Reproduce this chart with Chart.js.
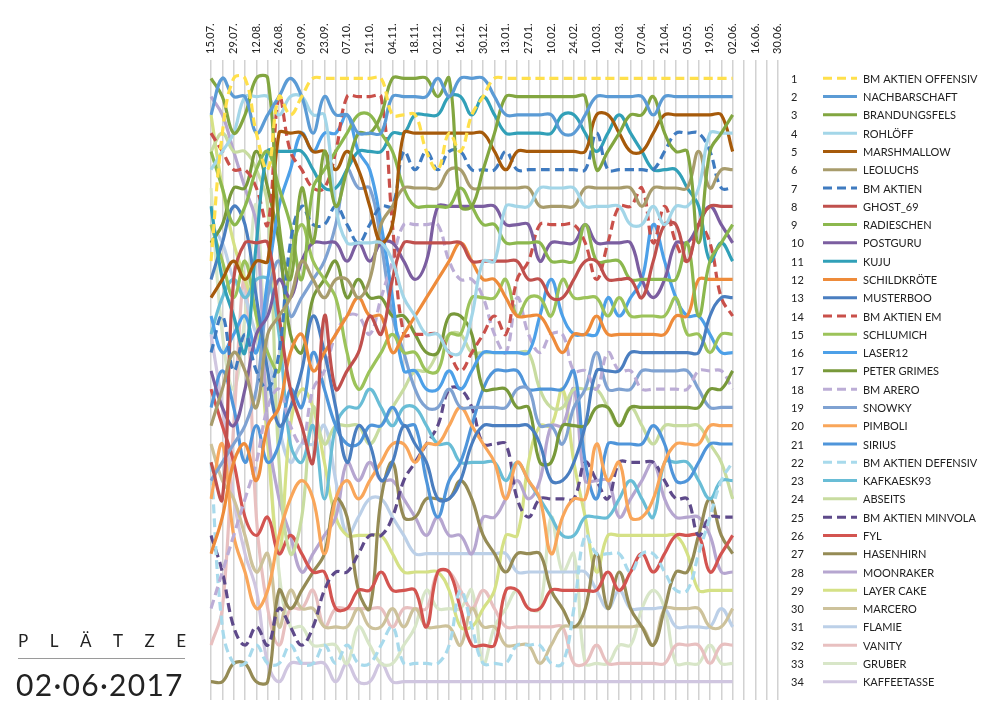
<!DOCTYPE html>
<html>
<head>
<meta charset="utf-8">
<script src="https://cdn.jsdelivr.net/npm/chart.js@4/dist/chart.umd.min.js"></script>
<style>
html,body{margin:0;padding:0;background:#fff;}
#wrap{position:relative;width:1000px;height:716px;overflow:hidden;}
#c{position:absolute;left:0;top:0;}
#plaetze{position:absolute;left:18px;top:631px;width:168px;display:flex;justify-content:space-between;font-family:Lato,sans-serif;font-size:17px;color:#222;line-height:20px;}
#rule{position:absolute;left:18px;top:658px;width:167px;height:1px;background:#9a9a9a;}
#datum{position:absolute;left:16px;top:666px;font-family:Lato,sans-serif;font-size:30px;color:#222;letter-spacing:1.3px;line-height:36px;}
</style>
</head>
<body>
<div id="wrap">
<canvas id="c" width="1000" height="716"></canvas>
<div id="plaetze"><span>P</span><span>L</span><span>Ä</span><span>T</span><span>Z</span><span>E</span></div>
<div id="rule"></div>
<div id="datum">02·06·2017</div>
</div>
<script>
// ---- tick labels (every two weeks), weeks run from 15.07.2016 to 30.06.2017
const tickLabels = ['15.07.','29.07.','12.08.','26.08.','09.09.','23.09.','07.10.','21.10.','04.11.','18.11.','02.12.','16.12.','30.12.','13.01.','27.01.','10.02.','24.02.','10.03.','24.03.','07.04.','21.04.','05.05.','19.05.','02.06.','16.06.','30.06.'];

// ---- series names (final ranking order on 02.06.)
const names = ['BM AKTIEN OFFENSIV','NACHBARSCHAFT','BRANDUNGSFELS','ROHLÖFF','MARSHMALLOW','LEOLUCHS','BM AKTIEN','GHOST_69','RADIESCHEN','POSTGURU','KUJU','SCHILDKRÖTE','MUSTERBOO','BM AKTIEN EM','SCHLUMICH','LASER12','PETER GRIMES','BM ARERO','SNOWKY','PIMBOLI','SIRIUS','BM AKTIEN DEFENSIV','KAFKAESK93','ABSEITS','BM AKTIEN MINVOLA','FYL','HASENHIRN','MOONRAKER','LAYER CAKE','MARCERO','FLAMIE','VANITY','GRUBER','KAFFEETASSE'];

// ---- weekly ranks per series (15.07. ... 02.06.)
const r01 = [11,4,1,1,4,6,2,3,2,1,1,1,1,1,1,1,3,3,3,5,6,4,5,3,2, 1,1,1,1,1,1,1,1,1,1,1,1,1,1,1,1,1,1,1,1,1,1];
const r02 = [3,1,2,2,4,3,2,1,2,4,2,3,3,4,4,4,2,2,2,2,1,2,1,1,1, 2,3,3,3,3,3,4,4,3,2,2,2,2,2,3,2,2,2,2,2,2,2];
const r03 = [1,2,4,3,1,1,9,12,7,10,5,8,6,4,4,3,1,1,1,1,2,1,8,8,6, 4,2,2,2,2,2,2,2,2,6,5,4,3,3,2,4,5,5,10,5,4,3];
const r04 = [6,5,4,2,2,2,3,2,2,3,3,8,10,10,10,10,11,13,14,15,15,16,16,14,11, 11,8,8,8,7,7,7,7,8,8,8,8,9,9,8,9,8,8,7,4,4,4];
const r05 = [13,12,11,12,11,11,4,4,4,5,5,6,5,6,8,10,9,4,4,4,4,4,4,4,4, 5,6,5,5,5,5,5,5,5,3,3,4,5,5,4,3,3,3,3,3,3,5];
const r06 = [20,18,16,17,19,15,14,13,11,12,13,12,12,13,12,9,8,7,7,7,7,6,6,7,7, 7,7,7,7,8,8,8,8,7,7,7,7,7,8,7,7,7,7,5,7,6,6];
const r07 = [16,14,17,15,17,18,16,10,8,9,9,8,9,10,9,8,8,5,6,5,6,5,5,6,6, 6,5,6,6,6,6,6,6,6,4,6,6,6,6,6,5,4,4,4,5,7,7];
const r08 = [22,24,12,10,10,10,14,18,20,22,14,18,17,16,14,15,12,10,10,10,10,10,10,11,11, 11,11,11,12,12,13,13,12,11,11,12,12,12,13,11,9,9,11,9,8,8,8];
const r09 = [5,7,9,8,6,5,7,9,12,7,6,5,4,3,3,4,5,7,8,8,8,8,7,8,9, 9,10,10,10,10,11,11,11,9,11,11,11,12,12,12,12,12,10,14,11,10,9];
const r10 = [17,19,20,18,15,14,12,13,11,10,10,10,11,10,11,10,10,11,12,11,8,8,8,8,8, 8,9,9,9,11,10,10,10,9,10,10,10,10,12,13,12,10,10,9,8,9,10];
const r11 = [8,12,14,16,10,5,5,5,5,6,7,7,6,5,5,5,4,4,3,3,3,2,2,3,2, 3,4,4,4,4,4,3,3,4,5,4,3,4,5,6,6,6,7,8,11,10,11];
const r12 = [27,25,22,21,23,20,19,16,15,17,16,15,14,13,14,14,16,15,14,13,12,11,10,11,12, 12,13,14,14,14,15,16,15,15,14,15,15,15,15,15,15,14,14,12,12,12,12];
const r13 = [12,10,8,9,13,17,20,19,17,14,16,19,22,20,21,23,22,20,21,22,24,24,23,21,20, 20,20,20,20,21,23,23,22,20,17,17,17,16,16,16,16,16,16,16,14,13,13];
const r14 = [4,5,6,6,7,9,2,5,6,7,7,5,2,2,2,2,9,15,15,15,15,16,17,16,15, 14,15,12,11,9,9,9,9,10,12,10,8,8,7,10,8,10,11,9,10,13,14];
const r15 = [9,11,13,11,14,16,17,11,9,11,12,13,16,18,17,16,15,16,16,17,17,15,15,13,13, 13,12,14,13,13,14,12,13,13,13,14,13,14,14,14,14,13,15,15,16,15,15];
const r16 = [14,16,15,14,16,12,8,6,4,5,4,4,3,5,6,9,13,17,17,18,18,17,18,17,16, 16,16,16,16,14,12,14,15,15,15,13,14,13,12,9,11,13,14,14,15,16,16];
const r17 = [10,9,7,7,5,7,10,15,16,13,12,11,13,12,13,13,14,14,15,16,16,14,14,15,18, 18,18,19,19,22,22,20,20,20,19,19,20,19,19,19,19,19,19,19,18,18,17];
const r18 = [30,28,26,24,22,19,18,20,21,18,17,15,14,14,15,13,11,9,9,9,9,11,12,12,13, 15,16,13,15,16,15,15,17,17,18,16,17,17,18,18,18,18,18,17,17,17,18];
const r19 = [23,22,21,20,18,13,11,14,13,12,11,9,6,7,7,10,14,16,18,19,19,18,19,19,19, 19,19,18,18,20,20,21,19,18,16,18,18,18,17,17,17,17,17,18,19,19,19];
const r20 = [24,21,26,28,30,29,26,24,23,24,27,24,23,24,23,22,21,21,22,21,21,20,19,20,21, 22,24,22,23,24,27,25,24,24,21,23,22,25,25,24,22,21,21,21,20,20,20];
const r21 = [19,17,19,22,20,22,21,18,19,16,18,20,21,21,20,20,19,20,20,23,25,23,22,20,18, 17,17,17,18,18,18,18,17,22,24,21,21,21,21,20,21,23,23,22,21,21,21];
const r22 = [22,31,33,33,32,33,33,32,33,33,32,33,32,33,33,32,31,33,33,33,33,32,29,31,33, 33,33,32,32,32,33,33,30,26,27,27,27,28,27,27,28,29,29,27,25,23,22];
const r23 = [15,13,12,13,12,12,15,21,22,20,24,20,19,19,18,19,20,19,19,20,21,21,22,22,22, 22,23,22,23,24,25,26,26,25,25,25,24,23,24,25,22,22,22,23,24,23,23];
const r24 = [5,4,5,5,6,8,22,27,25,19,21,20,20,20,21,20,19,18,17,17,16,15,15,16,16, 16,16,16,16,18,19,19,18,18,18,19,20,19,20,21,20,20,20,20,21,22,24];
const r25 = [26,28,31,32,31,32,30,31,32,31,29,28,28,27,26,26,25,23,22,21,20,18,18,19,21, 21,21,24,25,24,24,24,24,22,23,24,22,22,22,22,23,24,24,26,25,25,25];
const r26 = [18,20,22,25,26,25,27,26,27,28,28,30,30,29,29,28,29,29,29,31,28,28,30,32,32, 32,29,29,30,30,29,29,29,29,29,28,29,28,27,28,27,26,26,26,28,27,26];
const r27 = [34,34,33,33,34,34,29,30,29,28,27,24,25,29,30,24,22,25,25,24,24,24,23,24,26, 27,28,27,27,27,29,30,31,30,27,30,28,30,31,32,30,28,28,26,24,26,27];
const r28 = [2,3,5,7,9,20,24,26,28,27,26,25,22,23,22,23,23,24,25,26,25,26,26,27,25, 25,24,23,24,23,20,20,18,23,23,23,25,24,23,22,24,25,25,25,26,28,28];
const r29 = [3,7,10,12,14,21,27,20,18,19,22,25,26,26,26,26,27,28,28,28,28,29,31,31,30, 29,26,26,22,20,20,18,22,25,28,26,26,26,26,26,26,26,27,29,29,29,29];
const r30 = [21,23,24,26,28,27,31,29,30,30,31,31,31,30,31,31,30,31,30,31,31,31,32,30,31, 31,32,32,32,33,32,31,31,31,31,31,31,31,31,32,30,30,30,30,31,31,30];
const r31 = [9,10,12,13,15,16,20,22,21,21,20,23,26,25,24,24,25,26,27,27,27,27,27,27,27, 27,27,28,28,28,28,28,28,28,29,30,29,30,30,30,30,31,31,31,31,30,31];
const r32 = [32,30,20,12,25,30,32,30,30,29,31,30,30,30,30,30,31,30,30,30,28,28,29,30,29, 30,31,31,31,31,31,31,33,33,32,33,33,33,33,33,33,32,32,32,33,32,32];
const r33 = [7,15,18,14,8,20,28,31,31,32,32,32,33,31,32,33,33,32,31,29,30,30,30,29,33, 31,30,29,30,30,25,28,27,33,33,33,32,32,30,29,30,33,33,33,32,33,33];
const r34 = [15,19,24,27,29,33,34,33,33,33,33,34,33,34,34,33,34,34,34,34,34,34,34,34,34, 34,34,34,34,34,34,34,34,34,34,34,34,34,34,34,34,34,34,34,34,34,34];

const rankSeries = [r01,r02,r03,r04,r05,r06,r07,r08,r09,r10,r11,r12,r13,r14,r15,r16,r17,r18,r19,r20,r21,r22,r23,r24,r25,r26,r27,r28,r29,r30,r31,r32,r33,r34];

// ---- styles
const colors = ['#FFE04B','#5B9BD5','#82A640','#A3D6E8','#A65A0A','#A89C6C','#3F7BC0','#C0504D','#8CB84E','#7B5EA0','#31A0B8','#EE8B3A','#4A7EC0','#C9504A','#9CC35A','#4DA0E8','#78993A','#BCADD6','#7FA2D2','#F9A65A','#4F95DA','#A8DAEC','#69BDD6','#C8DCA0','#5E4A8A','#D35450','#958B55','#B6A6D0','#D5E186','#CDC29B','#BCD0E8','#E8C0C0','#D8E6C8','#D0C6E0'];
const dashed = [true,false,false,false,false,false,true,false,false,false,false,false,false,true,false,false,false,true,false,false,false,true,false,false,true,false,false,false,false,false,false,false,false,false];

const weekLabels = [];
tickLabels.forEach((t,i)=>{ weekLabels.push(t); if (i < tickLabels.length-1) weekLabels.push(''); });

const DASH = [9,5];

const rankLegend = {
  id:'rankLegend',
  afterDraw(chart){
    const ctx = chart.ctx, ys = chart.scales.y;
    ctx.save();
    ctx.font = '11px Lato, sans-serif';
    ctx.textBaseline = 'middle';
    ctx.textAlign = 'left';
    names.forEach((n,i)=>{
      const py = ys.getPixelForValue(i+1);
      ctx.fillStyle = '#222';
      ctx.fillText(String(i+1), 791, py+1);
      ctx.strokeStyle = colors[i];
      ctx.lineWidth = 3;
      ctx.setLineDash(dashed[i] ? DASH : []);
      ctx.beginPath(); ctx.moveTo(823, py); ctx.lineTo(857, py); ctx.stroke();
      ctx.setLineDash([]);
      ctx.fillStyle = '#222';
      ctx.fillText(n, 863, py+1);
    });
    ctx.restore();
  }
};

new Chart(document.getElementById('c').getContext('2d'), {
  type:'line',
  data:{
    labels: weekLabels,
    datasets: names.map((n,i)=>({
      label:n, data:rankSeries[i], borderColor:colors[i], backgroundColor:colors[i],
      borderWidth:3.2, borderDash: dashed[i] ? DASH : [], pointRadius:0, pointHoverRadius:0,
      tension:0.4, fill:false
    }))
  },
  options:{
    responsive:false, animation:false, events:[],
    layout:{padding:{left:211,right:222,top:0,bottom:16}},
    plugins:{legend:{display:false}, tooltip:{enabled:false}},
    scales:{
      x:{type:'category', position:'top', offset:false,
         grid:{color:'#d2d2d2', lineWidth:1.5, drawTicks:false},
         border:{display:false},
         ticks:{autoSkip:false, maxRotation:90, minRotation:90, padding:6, labelOffset:13, color:'#222', font:{family:'Lato', size:11}},
         afterFit(s){ s.height = 60; }
      },
      y:{type:'linear', min:0, max:35, reverse:true, display:false}
    }
  },
  plugins:[rankLegend]
});
</script>
</body>
</html>
